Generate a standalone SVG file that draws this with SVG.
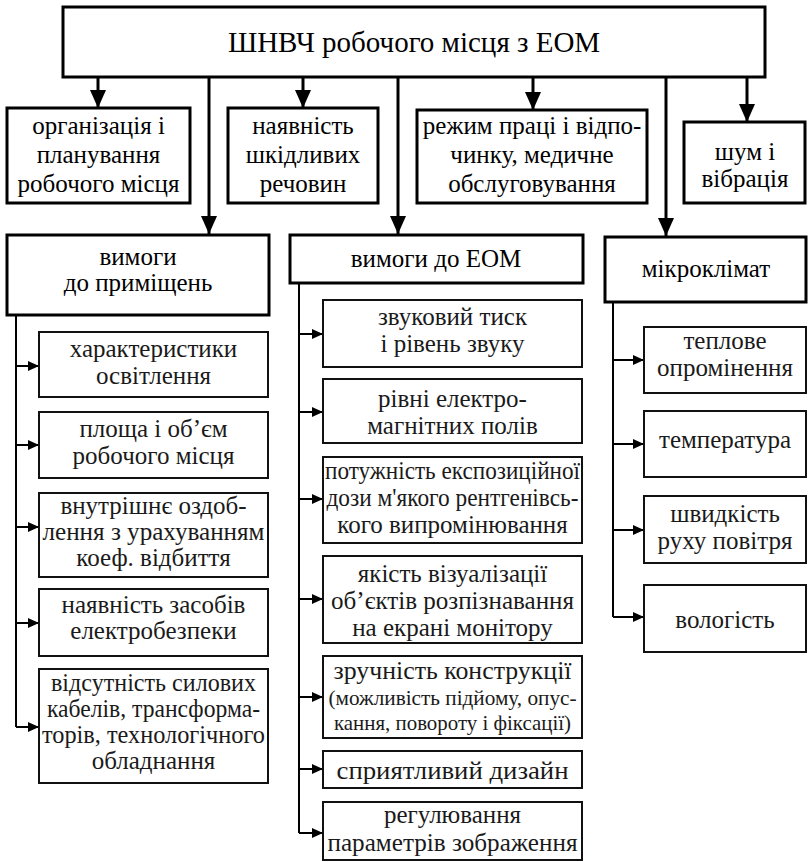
<svg xmlns="http://www.w3.org/2000/svg" width="810" height="862" viewBox="0 0 810 862">
<style>
text{fill:#000;text-anchor:middle;font-family:"Liberation Serif","Times New Roman",serif}
.main rect{fill:#fff;stroke:#000;stroke-width:3}
.sub rect{fill:#fff;stroke:#111;stroke-width:2}
.t1{font-size:29px}
.t2{font-size:25px}
.t3{font-size:25px;fill:#1a1a1a}
.t4{font-size:21.5px;fill:#1a1a1a}
.c1{fill:none;stroke:#000;stroke-width:3}
.c2{fill:none;stroke:#000;stroke-width:2}
</style>
<defs>
<marker id="ab" markerUnits="userSpaceOnUse" viewBox="0 0 18 16" markerWidth="18" markerHeight="16" refX="18" refY="8" orient="auto"><path d="M0,0 L18,8 L0,16 Z" fill="#000"/></marker>
<marker id="as" markerUnits="userSpaceOnUse" viewBox="0 0 11 10" markerWidth="11" markerHeight="10" refX="11" refY="5" orient="auto"><path d="M0,0 L11,5 L0,10 Z" fill="#000"/></marker>
</defs>
<g id="connectors">
<path class="c1" marker-end="url(#ab)" d="M98,77 V108"/>
<path class="c1" marker-end="url(#ab)" d="M209,77 V234"/>
<path class="c1" marker-end="url(#ab)" d="M303,77 V108"/>
<path class="c1" marker-end="url(#ab)" d="M398,77 V234"/>
<path class="c1" marker-end="url(#ab)" d="M533,77 V110"/>
<path class="c1" marker-end="url(#ab)" d="M666,77 V236"/>
<path class="c1" marker-end="url(#ab)" d="M747,77 V122"/>
<path class="c2" d="M16,315 V727"/>
<path class="c2" marker-end="url(#as)" d="M16,366 H39"/>
<path class="c2" marker-end="url(#as)" d="M16,445 H39"/>
<path class="c2" marker-end="url(#as)" d="M16,527 H39"/>
<path class="c2" marker-end="url(#as)" d="M16,623 H39"/>
<path class="c2" marker-end="url(#as)" d="M16,727 H39"/>
<path class="c2" d="M299,283 V833"/>
<path class="c2" marker-end="url(#as)" d="M299,334 H323"/>
<path class="c2" marker-end="url(#as)" d="M299,412 H323"/>
<path class="c2" marker-end="url(#as)" d="M299,499 H323"/>
<path class="c2" marker-end="url(#as)" d="M299,599 H323"/>
<path class="c2" marker-end="url(#as)" d="M299,697 H323"/>
<path class="c2" marker-end="url(#as)" d="M299,769 H323"/>
<path class="c2" marker-end="url(#as)" d="M299,833 H323"/>
<path class="c2" d="M613,302 V617"/>
<path class="c2" marker-end="url(#as)" d="M613,360 H644"/>
<path class="c2" marker-end="url(#as)" d="M613,444 H644"/>
<path class="c2" marker-end="url(#as)" d="M613,530 H644"/>
<path class="c2" marker-end="url(#as)" d="M613,617 H644"/>
</g>
<g id="root" class="main"><rect x="63" y="7" width="702" height="70"/><text class="t1" x="414" y="52">ШНВЧ робочого місця з ЕОМ</text></g>
<g id="org" class="main"><rect x="7" y="108" width="183" height="95"/><text class="t2"><tspan x="98.5" y="134">організація і</tspan><tspan x="98.5" y="163">планування</tspan><tspan x="98.5" y="192">робочого місця</tspan></text></g>
<g id="shkid" class="main"><rect x="228" y="108" width="150" height="95"/><text class="t2"><tspan x="303" y="134">наявність</tspan><tspan x="303" y="163">шкідливих</tspan><tspan x="303" y="192">речовин</tspan></text></g>
<g id="rezhym" class="main"><rect x="417" y="110" width="230" height="93"/><text class="t2"><tspan x="532" y="134">режим праці і відпо-</tspan><tspan x="532" y="163">чинку, медичне</tspan><tspan x="532" y="192">обслуговування</tspan></text></g>
<g id="shum" class="main"><rect x="684" y="122" width="121" height="81"/><text class="t2"><tspan x="745" y="160">шум і</tspan><tspan x="745" y="187">вібрація</tspan></text></g>
<g id="prymishch" class="main"><rect x="7" y="235" width="262" height="80"/><text class="t2"><tspan x="138" y="265">вимоги</tspan><tspan x="138" y="291">до приміщень</tspan></text></g>
<g id="eom" class="main"><rect x="290" y="235" width="293" height="48"/><text class="t2" x="436" y="267">вимоги до ЕОМ</text></g>
<g id="mikro" class="main"><rect x="605" y="237" width="201" height="65"/><text class="t2" x="706" y="277">мікроклімат</text></g>
<g id="osvit" class="sub"><rect x="39" y="332" width="229" height="65"/><text class="t3"><tspan x="153.5" y="357">характеристики</tspan><tspan x="153.5" y="384">освітлення</tspan></text></g>
<g id="plosha" class="sub"><rect x="39" y="412" width="229" height="66"/><text class="t3"><tspan x="153.5" y="437">площа і об’єм</tspan><tspan x="153.5" y="464">робочого місця</tspan></text></g>
<g id="ozdob" class="sub"><rect x="39" y="493" width="229" height="84"/><text class="t3" x="153.5" y="514">внутрішнє оздоб-</text><text class="t3" x="153.5" y="540" textLength="222" lengthAdjust="spacingAndGlyphs">лення з урахуванням</text><text class="t3" x="153.5" y="566">коеф. відбиття</text></g>
<g id="elektro" class="sub"><rect x="39" y="589" width="229" height="67"/><text class="t3"><tspan x="153.5" y="613">наявність засобів</tspan><tspan x="153.5" y="639">електробезпеки</tspan></text></g>
<g id="kabeli" class="sub"><rect x="39" y="669" width="229" height="114"/><text class="t3" x="153.5" y="691" textLength="205" lengthAdjust="spacingAndGlyphs">відсутність силових</text><text class="t3" x="153.5" y="717" textLength="213" lengthAdjust="spacingAndGlyphs">кабелів, трансформа-</text><text class="t3" x="153.5" y="743" textLength="223" lengthAdjust="spacingAndGlyphs">торів, технологічного</text><text class="t3" x="153.5" y="769">обладнання</text></g>
<g id="zvuk" class="sub"><rect x="323" y="300" width="259" height="67"/><text class="t3"><tspan x="452.5" y="325">звуковий тиск</tspan><tspan x="452.5" y="352">і рівень звуку</tspan></text></g>
<g id="pole" class="sub"><rect x="323" y="379" width="259" height="64"/><text class="t3"><tspan x="452.5" y="407">рівні електро-</tspan><tspan x="452.5" y="434">магнітних полів</tspan></text></g>
<g id="rentgen" class="sub"><rect x="323" y="457" width="259" height="86"/><text class="t3" x="452.5" y="479" textLength="255" lengthAdjust="spacingAndGlyphs">потужність експозиційної</text><text class="t3" x="452.5" y="506" textLength="252" lengthAdjust="spacingAndGlyphs">дози м'якого рентгенівсь-</text><text class="t3" x="452.5" y="533">кого випромінювання</text></g>
<g id="vizual" class="sub"><rect x="323" y="556" width="259" height="87"/><text class="t3" x="452.5" y="582">якість візуалізації</text><text class="t3" x="452.5" y="609" textLength="243" lengthAdjust="spacingAndGlyphs">об’єктів розпізнавання</text><text class="t3" x="452.5" y="636">на екрані монітору</text></g>
<g id="konstr" class="sub"><rect x="323" y="656" width="259" height="82"/><text class="t3" x="452.5" y="679" textLength="238" lengthAdjust="spacingAndGlyphs">зручність конструкції</text><text class="t4" x="452.5" y="705" textLength="248" lengthAdjust="spacingAndGlyphs">(можливість підйому, опус-</text><text class="t4" x="452.5" y="730" textLength="237" lengthAdjust="spacingAndGlyphs">кання, повороту і фіксації)</text></g>
<g id="dyzain" class="sub"><rect x="323" y="751" width="259" height="37"/><text class="t3" x="452.5" y="779" textLength="232" lengthAdjust="spacingAndGlyphs">сприятливий дизайн</text></g>
<g id="rehul" class="sub"><rect x="323" y="802" width="259" height="58"/><text class="t3" x="452.5" y="823">регулювання</text><text class="t3" x="452.5" y="851" textLength="250" lengthAdjust="spacingAndGlyphs">параметрів зображення</text></g>
<g id="teplo" class="sub"><rect x="644" y="327" width="162" height="66"/><text class="t3"><tspan x="725" y="349">теплове</tspan><tspan x="725" y="376">опромінення</tspan></text></g>
<g id="temp" class="sub"><rect x="644" y="411" width="162" height="66"/><text class="t3" x="725" y="448">температура</text></g>
<g id="shvyd" class="sub"><rect x="644" y="496" width="162" height="67"/><text class="t3"><tspan x="725" y="522">швидкість</tspan><tspan x="725" y="549">руху повітря</tspan></text></g>
<g id="volog" class="sub"><rect x="644" y="585" width="162" height="67"/><text class="t3" x="725" y="628">вологість</text></g>
</svg>
